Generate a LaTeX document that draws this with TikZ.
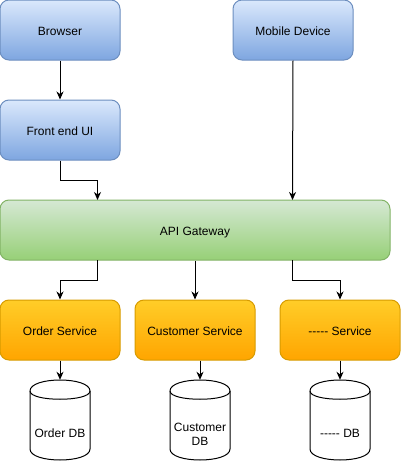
\documentclass[tikz,border=0pt]{standalone}
\usepackage{fontspec}
\setmainfont[Ligatures=TeXOff]{Liberation Sans}
\usetikzlibrary{arrows.meta}
\definecolor{blueTop}{HTML}{DAE8FC}
\definecolor{blueBot}{HTML}{7EA6E0}
\definecolor{blueLine}{HTML}{6C8EBF}
\definecolor{greenTop}{HTML}{D5E8D4}
\definecolor{greenBot}{HTML}{97D077}
\definecolor{greenLine}{HTML}{82B366}
\definecolor{orangeTop}{HTML}{FFCD28}
\definecolor{orangeBot}{HTML}{FFA500}
\definecolor{orangeLine}{HTML}{D79B00}
\newcommand{\dbcyl}[2]{%
  \filldraw[fill=white,draw=black,line width=1pt]
    (#1-30,#2+11) .. controls (#1-30,#2-11/3) and (#1+30,#2-11/3) .. (#1+30,#2+11)
    -- (#1+30,#2+69) .. controls (#1+30,#2+80+11/3) and (#1-30,#2+80+11/3) .. (#1-30,#2+69) -- cycle;
  \draw[line width=1pt] (#1-30,#2+11) .. controls (#1-30,#2+22) and (#1+30,#2+22) .. (#1+30,#2+11);
}
\begin{document}
\begin{tikzpicture}[x=1pt,y=-1pt,
  box/.style={rectangle, rounded corners=9pt, minimum height=60pt, inner sep=0pt,
    line width=1pt, font=\fontsize{12}{14}\selectfont, text height=11pt, text depth=0pt},
  bluebox/.style={box, minimum width=120pt, draw=blueLine, top color=blueTop, bottom color=blueBot},
  greenbox/.style={box, minimum width=390pt, draw=greenLine, top color=greenTop, bottom color=greenBot},
  orangebox/.style={box, minimum width=120pt, draw=orangeLine, top color=orangeTop, bottom color=orangeBot},
  dbframe/.style={rectangle, minimum width=60pt, minimum height=80pt, inner sep=0pt},
  dblabel/.style={font=\fontsize{12}{14}\selectfont, align=center, inner sep=0pt},
  conn/.style={line width=1pt, -{Stealth[length=8pt,width=7pt,inset=2.5pt]}}
]
\useasboundingbox (0,0) rectangle (401,461);

\node[bluebox] (browser) at (60,30) {Browser};
\node[bluebox] (mobile) at (293,30) {Mobile Device};
\node[bluebox] (front) at (60,130) {Front end UI};
\node[greenbox] (api) at (195,230) {API Gateway};
\node[orangebox] (order) at (60,330) {Order Service};
\node[orangebox] (customer) at (195,330) {Customer Service};
\node[orangebox] (other) at (340,330) {-----\ Service};

\node[dbframe] (dbA) at (60,420) {};
\node[dbframe] (dbB) at (200,420) {};
\node[dbframe] (dbC) at (340,420) {};
\dbcyl{60}{380}
\dbcyl{200}{380}
\dbcyl{340}{380}
\node[dblabel] (dbAl) at (60,433) {Order DB};
\node[dblabel] (dbBl) at (200,434.5) {Customer\\DB};
\node[dblabel] (dbCl) at (340,433) {-----\ DB};

\coordinate (apiIn1) at (97.5,200);
\coordinate (apiIn2) at (292.5,200);
\coordinate (apiOut1) at (97.5,260);
\coordinate (apiOut3) at (292.5,260);

\draw[conn] (browser.south) -- (front.north);
\draw[conn] (front.south) -- (60,180) -- (97.5,180) -- (apiIn1);
\draw[conn] (mobile.south) -- (apiIn2);
\draw[conn] (apiOut1) -- (97.5,280) -- (60,280) -- (order.north);
\draw[conn] (api.south) -- (customer.north);
\draw[conn] (apiOut3) -- (292.5,280) -- (340,280) -- (other.north);
\draw[conn] (order.south) -- (dbA.north);
\draw[conn] (dbB.north |- customer.south) -- (dbB.north);
\draw[conn] (other.south) -- (dbC.north);
\end{tikzpicture}
\end{document}
